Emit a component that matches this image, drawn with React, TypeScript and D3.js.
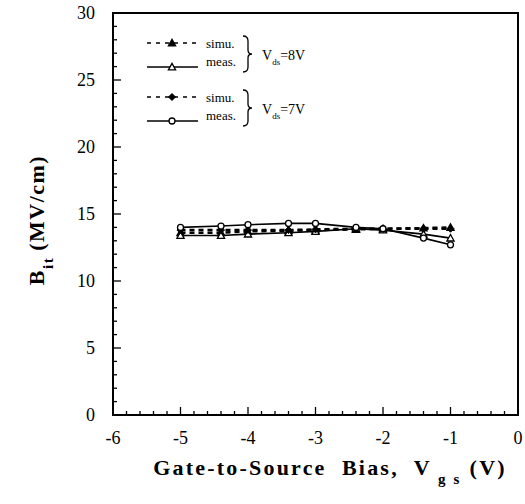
import React from 'react';
import * as d3 from 'd3';

const biasVgs = [-5, -4.4, -4, -3.4, -3, -2.4, -2, -1.4, -1];
const simu8V = [13.6, 13.6, 13.7, 13.75, 13.8, 13.85, 13.9, 13.95, 14.0];
const meas8V = [13.4, 13.4, 13.5, 13.6, 13.7, 13.9, 13.8, 13.5, 13.2];
const simu7V = [13.8, 13.8, 13.8, 13.8, 13.85, 13.9, 13.9, 13.9, 13.9];
const meas7V = [14.0, 14.1, 14.2, 14.3, 14.3, 14.0, 13.9, 13.2, 12.7];

const xTicks = [-6, -5, -4, -3, -2, -1, 0];
const yTicks = [0, 5, 10, 15, 20, 25, 30];

const FONT = '"Liberation Serif", "Times New Roman", serif';

const W = 525;
const H = 504;
const left = 113, right = 518, top = 13, bottom = 415;

type Marker = 'triFilled' | 'triOpen' | 'diamond' | 'circleOpen';

const MarkerShape = ({ kind, x, y }: { kind: Marker; x: number; y: number }) => {
  if (kind === 'triFilled' || kind === 'triOpen') {
    const s = 3.6;
    const d = `M${x},${y - s}L${x + s},${y + s * 0.8}L${x - s},${y + s * 0.8}Z`;
    return <path d={d} fill={kind === 'triFilled' ? '#000' : '#fff'} stroke="#000" strokeWidth={1.3} />;
  }
  if (kind === 'diamond') {
    const s = 3.5;
    const d = `M${x},${y - s}L${x + s},${y}L${x},${y + s}L${x - s},${y}Z`;
    return <path d={d} fill="#000" stroke="#000" strokeWidth={1} />;
  }
  return <circle cx={x} cy={y} r={3} fill="#fff" stroke="#000" strokeWidth={1.3} />;
};

const series = [
  { name: 'simu8', values: simu8V, dash: '5,4', marker: 'triFilled' as Marker, width: 2.5 },
  { name: 'meas8', values: meas8V, dash: '', marker: 'triOpen' as Marker, width: 1.6 },
  { name: 'simu7', values: simu7V, dash: '5,4', marker: 'diamond' as Marker, width: 2.5 },
  { name: 'meas7', values: meas7V, dash: '', marker: 'circleOpen' as Marker, width: 1.6 },
];

const App = () => {
  const x = d3.scaleLinear().domain([-6, 0]).range([left, right]);
  const y = d3.scaleLinear().domain([0, 30]).range([bottom, top]);

  const line = d3.line<number>()
    .x((_, i) => x(biasVgs[i]))
    .y(d => y(d));

  const xMinor = d3.range(-6, 0.001, 0.2);
  const yMinor = d3.range(0, 30.001, 1);

  const brace = (x0: number, y0: number, y1: number) => {
    const m = (y0 + y1) / 2;
    const w = 5;
    return `M${x0},${y0} Q${x0 + w},${y0} ${x0 + w},${y0 + 5} L${x0 + w},${m - 4} Q${x0 + w},${m} ${x0 + w + 4},${m} Q${x0 + w},${m} ${x0 + w},${m + 4} L${x0 + w},${y1 - 5} Q${x0 + w},${y1} ${x0},${y1}`;
  };

  const legendRows = [
    { marker: 'triFilled' as Marker, dash: '4,5', label: 'simu.', y: 43 },
    { marker: 'triOpen' as Marker, dash: '', label: 'meas.', y: 67 },
    { marker: 'diamond' as Marker, dash: '4,5', label: 'simu.', y: 97 },
    { marker: 'circleOpen' as Marker, dash: '', label: 'meas.', y: 121 },
  ];

  return (
    <svg width={W} height={H} style={{ position: 'absolute', left: 0, top: 0, background: '#fff' }} fontFamily={FONT}>
      {/* frame */}
      <rect x={left} y={top} width={right - left} height={bottom - top} fill="none" stroke="#000" strokeWidth={2} />

      {/* x ticks */}
      {xMinor.map((v, i) => {
        const major = Math.abs(v - Math.round(v)) < 1e-6;
        return <line key={'xm' + i} x1={x(v)} x2={x(v)} y1={bottom} y2={bottom - (major ? 8 : 4)} stroke="#000" strokeWidth={1.3} />;
      })}
      {xTicks.map(t => (
        <text key={'xt' + t} x={x(t)} y={bottom + 29} textAnchor="middle" fontSize={18}>{t}</text>
      ))}

      {/* y ticks */}
      {yMinor.map((v, i) => {
        const major = v % 5 === 0;
        return <line key={'ym' + i} x1={left} x2={left + (major ? 8 : 4)} y1={y(v)} y2={y(v)} stroke="#000" strokeWidth={1.3} />;
      })}
      {yTicks.map(t => (
        <text key={'yt' + t} x={left - 18} y={y(t) + 6} textAnchor="end" fontSize={18}>{t}</text>
      ))}

      {/* series */}
      {series.map(s => (
        <g key={s.name}>
          <path d={line(s.values) || ''} fill="none" stroke="#000" strokeWidth={s.width} strokeDasharray={s.dash} />
          {s.values.map((v, i) => (
            <MarkerShape key={i} kind={s.marker} x={x(biasVgs[i])} y={y(v)} />
          ))}
        </g>
      ))}

      {/* legend */}
      {legendRows.map((r, i) => (
        <g key={'lg' + i}>
          <line x1={147} x2={198} y1={r.y} y2={r.y} stroke="#000" strokeWidth={1.4} strokeDasharray={r.dash} />
          <MarkerShape kind={r.marker} x={172} y={r.y} />
          <text x={206} y={r.y + (i % 2 === 0 ? 5 : -1)} fontSize={13}>{r.label}</text>
        </g>
      ))}
      <path d={brace(243, 36, 72)} fill="none" stroke="#000" strokeWidth={1.3} />
      <path d={brace(243, 90, 126)} fill="none" stroke="#000" strokeWidth={1.3} />
      <text x={262} y={60} fontSize={14}>V<tspan fontSize={9} dy={5}>ds</tspan><tspan dy={-5}>=8V</tspan></text>
      <text x={262} y={114} fontSize={14}>V<tspan fontSize={9} dy={5}>ds</tspan><tspan dy={-5}>=7V</tspan></text>

      {/* axis titles */}
      <text x={330} y={475} textAnchor="middle" fontSize={22} fontWeight="bold" letterSpacing={2.2} style={{ whiteSpace: 'pre' }}>
        Gate-to-Source  Bias,  V<tspan fontSize={15} dy={9} dx={6}>g s</tspan><tspan dy={-9} dx={8}>(V)</tspan>
      </text>
      <text transform={`translate(44, ${(top + bottom) / 2 + 6}) rotate(-90)`} textAnchor="middle" fontSize={22} fontWeight="bold" letterSpacing={1.5} style={{ whiteSpace: 'pre' }}>
        B<tspan fontSize={15} dy={9}>it</tspan><tspan dy={-9} dx={6}>(MV/cm)</tspan>
      </text>
    </svg>
  );
};

export default App;
